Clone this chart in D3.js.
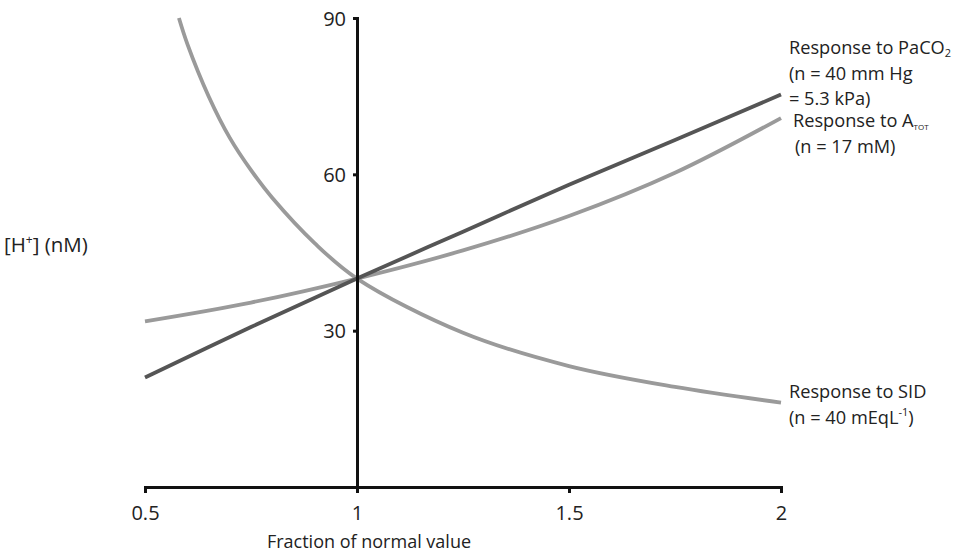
<!DOCTYPE html>
<html>
<head>
<meta charset="utf-8">
<script src="https://cdn.jsdelivr.net/npm/d3@7"></script>
<style>
  html, body { margin: 0; padding: 0; background: #fff; }
  svg { display: block; }
  text { font-family: "Open Sans", "Noto Sans", sans-serif; fill: #222; }
</style>
</head>
<body>
<svg id="chart" width="962" height="552"></svg>
<script>
// Fraction of normal value for each driver
const fractions = [0.5, 0.75, 1, 1.25, 1.5, 1.75, 2];
// [H+] (nM) responses
const paco2Values = [21, 30.7, 40, 49, 58, 66.6, 75.3];
const atotValues = [31.8, 35.4, 40, 45.4, 52, 60.3, 70.8];
const sidFractions = [0.58, 0.6, 0.65, 0.7, 0.75, 0.8, 0.9, 1, 1.25, 1.5, 1.75, 2];
const sidValues = [90, 85, 75, 67, 60.8, 55.5, 46.8, 40, 29.6, 23.2, 19.2, 16.2];

const xTicks = [0.5, 1, 1.5, 2];
const yTicks = [30, 60, 90];

const svg = d3.select("#chart");
const x = d3.scaleLinear().domain([0.5, 2]).range([145, 781]);
const y = d3.scaleLinear().domain([0, 90]).range([487, 18]);

const line = d3.line()
  .x(d => x(d[0]))
  .y(d => y(d[1]))
  .curve(d3.curveCatmullRom.alpha(0.5));

const series = [
  { xs: sidFractions, ys: sidValues, color: "#9a9a9a" },
  { xs: fractions, ys: atotValues, color: "#9a9a9a" },
  { xs: fractions, ys: paco2Values, color: "#555555" }
];

svg.append("g").selectAll("path")
  .data(series)
  .join("path")
  .attr("d", s => line(s.xs.map((v, i) => [v, s.ys[i]])))
  .attr("fill", "none")
  .attr("stroke", s => s.color)
  .attr("stroke-width", 3.8)
  .attr("stroke-linecap", "butt");

// x axis along the bottom
const xAxis = svg.append("g")
  .attr("transform", `translate(0,${y(0)})`)
  .call(d3.axisBottom(x).tickValues(xTicks).tickFormat(d3.format("")).tickSizeInner(6).tickSizeOuter(6).tickPadding(11));

// y axis standing at the normal value (fraction = 1)
const yAxis = svg.append("g")
  .attr("transform", `translate(${x(1)},0)`)
  .call(d3.axisLeft(y).tickValues(yTicks).tickSizeInner(4).tickSizeOuter(4).tickPadding(7));

[xAxis, yAxis].forEach(g => {
  g.select(".domain").attr("stroke", "#111").attr("stroke-width", 3).attr("fill", "none");
  g.selectAll(".tick line").attr("stroke", "#111").attr("stroke-width", 3);
  g.selectAll(".tick text")
    .attr("font-family", "'Open Sans', 'Noto Sans', sans-serif")
    .attr("font-size", 20)
    .attr("fill", "#222");
});
xAxis.selectAll(".tick text").attr("dy", "0.8em");
yAxis.selectAll(".tick text").attr("dy", "0.35em");

// axis titles
svg.append("text")
  .attr("x", 369).attr("y", 548)
  .attr("text-anchor", "middle")
  .attr("font-size", 18)
  .text("Fraction of normal value");

const hLabel = svg.append("text")
  .attr("x", 4).attr("y", 252)
  .attr("font-size", 20.5);
hLabel.append("tspan").text("[H");
hLabel.append("tspan").attr("font-size", 12).attr("dy", -8).text("+");
hLabel.append("tspan").attr("dy", 8).text("] (nM)");

// series labels
function label(xp, yp, parts) {
  const t = svg.append("text").attr("x", xp).attr("y", yp).attr("font-size", 18.2);
  parts.forEach(p => {
    const s = t.append("tspan").text(p.t);
    if (p.size) s.attr("font-size", p.size);
    if (p.dy) s.attr("dy", p.dy);
  });
}
label(789, 54, [{ t: "Response to PaCO" }, { t: "2", size: 11, dy: 3 }]);
label(789, 80, [{ t: "(n = 40 mm Hg" }]);
label(789, 105, [{ t: "= 5.3 kPa)" }]);
label(793, 127, [{ t: "Response to A" }, { t: "TOT", size: 8, dy: 3 }]);
label(795, 153, [{ t: "(n = 17 mM)" }]);
label(789, 398, [{ t: "Response to SID" }]);
label(789, 424, [{ t: "(n = 40 mEqL" }, { t: "-1", size: 11, dy: -8 }, { t: ")", dy: 8 }]);
</script>
</body>
</html>
